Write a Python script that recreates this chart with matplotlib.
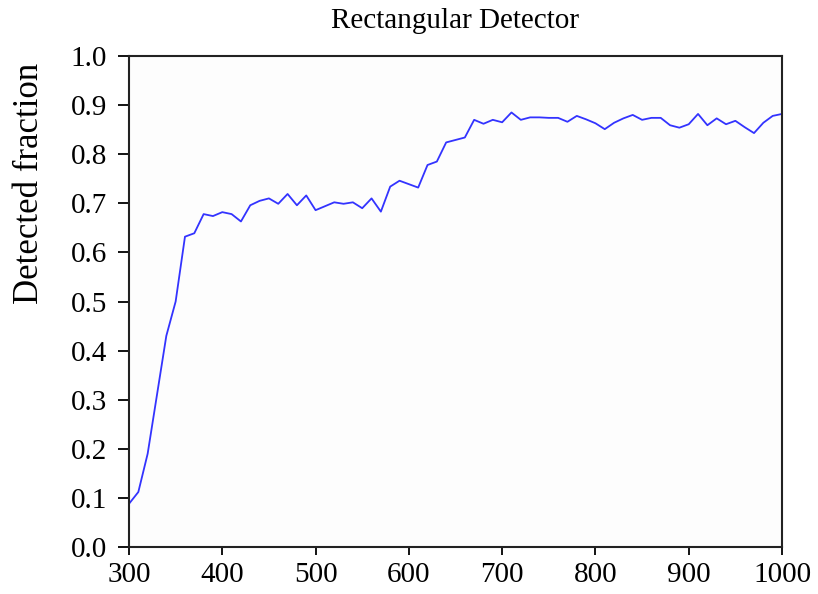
import matplotlib
matplotlib.use("Agg")
import matplotlib.pyplot as plt
import numpy as np

wavelength = list(range(300, 1001, 10))
fraction = [
    0.088, 0.112, 0.19, 0.31, 0.43, 0.50, 0.632, 0.639, 0.678, 0.674,
    0.682, 0.678, 0.663, 0.696, 0.705, 0.710, 0.699, 0.719, 0.696, 0.716,
    0.686, 0.694, 0.702, 0.699, 0.702, 0.690, 0.710, 0.683, 0.734, 0.746,
    0.739, 0.732, 0.778, 0.785, 0.824, 0.829, 0.834, 0.870, 0.862, 0.870,
    0.865, 0.885, 0.870, 0.875, 0.875, 0.874, 0.874, 0.866, 0.878, 0.871,
    0.863, 0.851, 0.864, 0.873, 0.880, 0.870, 0.874, 0.874, 0.859, 0.854,
    0.861, 0.882, 0.859, 0.873, 0.861, 0.868, 0.855, 0.843, 0.864, 0.878,
    0.882,
]
xticks = [300, 400, 500, 600, 700, 800, 900, 1000]
yticks = [round(0.1 * i, 1) for i in range(11)]

plt.rcParams['font.family'] = ['Liberation Serif', 'DejaVu Serif']

fig = plt.figure(figsize=(8.18, 5.94), dpi=100)
ax = fig.add_axes([129/818, 47/594, (782-129)/818, (547-56)/594])
ax.plot(wavelength, fraction, color='#3333ff', lw=1.3)
ax.set_xlim(300, 1000)
ax.set_ylim(0, 1.0)
ax.set_xticks(xticks)
ax.set_xticklabels([str(t) for t in xticks])
ax.set_yticks(yticks)
ax.set_yticklabels([f"{t:.1f}" for t in yticks])
ax.tick_params(axis='y', direction='out', length=8, width=1.3, labelsize=21, pad=8, colors='black')
ax.tick_params(axis='x', direction='out', length=6, width=1.3, labelsize=21, pad=5, colors='black')
for s in ax.spines.values():
    s.set_linewidth(1.5)
    s.set_color('#222222')
ax.set_facecolor('#fdfdfd')
fig.text(455/818, 1 - 21/594, 'Rectangular Detector', ha='center', va='center', fontsize=21)
fig.text(30/818, 1 - 183/594, 'Detected fraction', ha='center', va='center', rotation=90, fontsize=25)
fig.savefig('out.png', dpi=100, facecolor='white')
